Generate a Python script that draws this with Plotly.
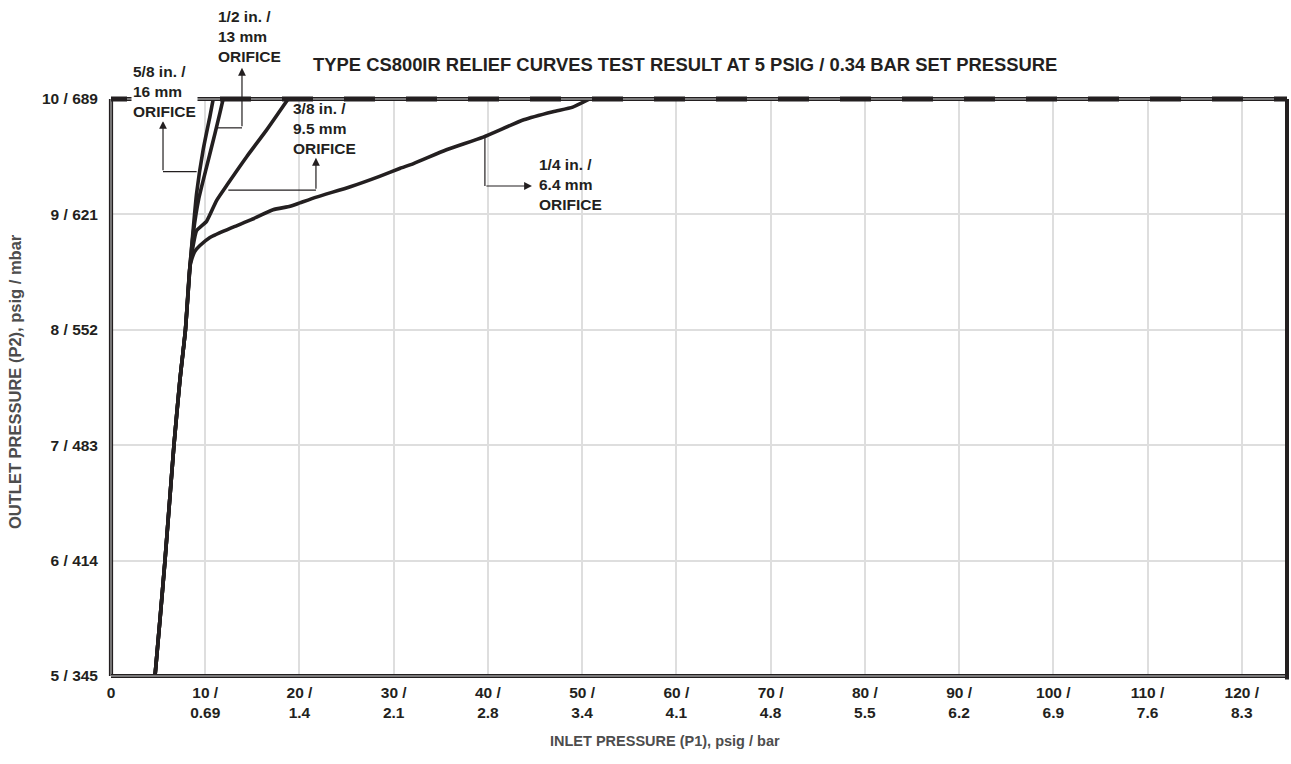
import plotly.graph_objects as go

# ---------------- data ----------------
x_tickvals = [0, 10, 20, 30, 40, 50, 60, 70, 80, 90, 100, 110, 120]
x_ticktext = ["0", "10 /<br>0.69", "20 /<br>1.4", "30 /<br>2.1", "40 /<br>2.8",
              "50 /<br>3.4", "60 /<br>4.1", "70 /<br>4.8", "80 /<br>5.5",
              "90 /<br>6.2", "100 /<br>6.9", "110 /<br>7.6", "120 /<br>8.3"]
y_tickvals = [5, 6, 7, 8, 9, 10]
y_ticktext = ["5 / 345", "6 / 414", "7 / 483", "8 / 552", "9 / 621", "10 / 689"]

# shared rising trunk (inlet psig, outlet psig)
trunk_x = [4.67, 5.2, 5.73, 6.68, 7.32, 7.9, 8.38]
trunk_y = [5.0, 5.49, 6.0, 7.0, 7.57, 8.0, 8.55]

quarter_x = [8.6, 8.9, 9.44, 10.5, 12.97, 14.75, 17.2, 19.0, 20.05, 21.8, 25.4,
             28.5, 30.7, 32.1, 35.6, 39.5, 43.8, 46.9, 49.0, 50.8]
quarter_y = [8.62, 8.68, 8.73, 8.80, 8.89, 8.95, 9.04, 9.07, 9.10, 9.15, 9.24,
             9.33, 9.40, 9.44, 9.56, 9.67, 9.82, 9.89, 9.93, 10.0]

threeeighth_x = [8.7, 9.08, 10.14, 11.2, 12.27, 14.4, 16.5, 18.8]
threeeighth_y = [8.72, 8.86, 8.94, 9.12, 9.25, 9.50, 9.73, 10.0]

half_x = [8.75, 9.3, 10.14, 11.03, 11.56, 11.9]
half_y = [8.85, 9.13, 9.41, 9.70, 9.88, 10.0]

fiveeighth_x = [8.7, 9.08, 9.78, 10.5, 10.85]
fiveeighth_y = [8.85, 9.18, 9.56, 9.85, 10.0]

labels = ["5/8 in. /<br>16 mm<br>ORIFICE", "1/2 in. /<br>13 mm<br>ORIFICE",
          "3/8 in. /<br>9.5 mm<br>ORIFICE", "1/4 in. /<br>6.4 mm<br>ORIFICE"]

title_text = "TYPE CS800IR RELIEF CURVES TEST RESULT AT 5 PSIG / 0.34 BAR SET PRESSURE"

# ---------------- layout constants ----------------
W, H = 1291, 764
ML, MR, MT, MB = 111, 4, 99, 88
XMAX = 124.8
PW, PH = W - ML - MR, H - MT - MB
INK = "#231f20"
FONT = "Liberation Sans, Arial, sans-serif"


def px2paper_x(px):
    return (px - ML) / PW


def px2paper_y(py):
    return (H - MB - py) / PH


def d2px_x(x):
    return ML + x / XMAX * PW


def d2px_y(y):
    return MT + (10 - y) / 5 * PH


fig = go.Figure()
for bx, by in [(quarter_x, quarter_y), (threeeighth_x, threeeighth_y),
               (half_x, half_y), (fiveeighth_x, fiveeighth_y)]:
    fig.add_trace(go.Scatter(x=trunk_x + bx, y=trunk_y + by, mode="lines",
                             line=dict(color=INK, width=3.6, shape="spline", smoothing=0.5),
                             hoverinfo="skip", showlegend=False))

shapes = []
# frame: double lines (dark/grey/dark)
for (x0, y0, x1, y1) in [(0, 0, 0, 1), (0, 0, 1, 0), (0, 1, 1, 1)]:
    shapes.append(dict(type="line", xref="paper", yref="paper", x0=x0, y0=y0, x1=x1, y1=y1,
                       line=dict(color=INK, width=4.2), layer="above"))
    shapes.append(dict(type="line", xref="paper", yref="paper", x0=x0, y0=y0, x1=x1, y1=y1,
                       line=dict(color="#9a9a9a", width=1.4), layer="above"))
# right side solid
shapes.append(dict(type="line", xref="paper", yref="paper", x0=1, y0=-0.006, x1=1, y1=1,
                   line=dict(color=INK, width=4), layer="above"))
# dashed heavy top line
dash_pattern = ",".join(["16px"] + ["31px"] * 40)
shapes.append(dict(type="line", xref="paper", yref="paper", x0=0, y0=1, x1=1, y1=1,
                   line=dict(color=INK, width=5, dash=dash_pattern), layer="above"))

# leader elbows (tail on curve -> corner), arrows from corner -> head
leaders = [
    dict(tail=(9.09, 9.37), corner_x=5.52, head=(5.52, 9.81), first="h"),
    dict(tail=(11.21, 9.75), corner_x=13.9, head=(13.9, 10.27), first="h"),
    dict(tail=(12.45, 9.21), corner_x=21.75, head=(21.75, 9.49), first="h"),
    dict(tail=(39.68, 9.67), corner_y=9.246, head=(44.67, 9.246), first="v"),
]
annotations = []
for L in leaders:
    tx, ty = L["tail"]
    if L["first"] == "h":
        cx, cy = L["corner_x"], ty
    else:
        cx, cy = tx, L["corner_y"]
    shapes.append(dict(type="line", xref="paper", yref="paper",
                       x0=px2paper_x(d2px_x(tx)), y0=px2paper_y(d2px_y(ty)),
                       x1=px2paper_x(d2px_x(cx)), y1=px2paper_y(d2px_y(cy)),
                       line=dict(color=INK, width=1.2), layer="above"))
    hx, hy = L["head"]
    annotations.append(dict(xref="paper", yref="paper",
                            x=px2paper_x(d2px_x(hx)), y=px2paper_y(d2px_y(hy)),
                            axref="pixel", ayref="pixel",
                            ax=d2px_x(cx) - d2px_x(hx), ay=d2px_y(cy) - d2px_y(hy),
                            text="", showarrow=True, arrowhead=2, arrowsize=1.3,
                            arrowwidth=1.2, arrowcolor=INK, standoff=0, startstandoff=0))

# label texts: (left px, top px)
label_pos = [(131, 61), (216, 6), (291, 98), (537, 154)]
for i, (lx, ly) in enumerate(label_pos):
    annotations.append(dict(xref="paper", yref="paper", x=px2paper_x(lx), y=px2paper_y(ly),
                            xanchor="left", yanchor="top", align="left", showarrow=False,
                            text="<b>" + labels[i] + "</b>",
                            font=dict(family=FONT, size=15.5, color=INK),
                            bgcolor="white" if i == 0 else "rgba(0,0,0,0)", borderpad=1))

# title
annotations.append(dict(xref="paper", yref="paper", x=px2paper_x(685), y=px2paper_y(64),
                        xanchor="center", yanchor="middle", showarrow=False,
                        text="<b>" + title_text + "</b>",
                        font=dict(family=FONT, size=18.4, color=INK)))
# axis titles
annotations.append(dict(xref="paper", yref="paper", x=px2paper_x(665), y=px2paper_y(741),
                        xanchor="center", yanchor="middle", showarrow=False,
                        text="<b>INLET PRESSURE (P1), psig / bar</b>",
                        font=dict(family=FONT, size=14.5, color="#4d4d4d")))
annotations.append(dict(xref="paper", yref="paper", x=px2paper_x(15), y=px2paper_y(382),
                        xanchor="center", yanchor="middle", showarrow=False, textangle=-90,
                        text="<b>OUTLET PRESSURE (P2), psig / mbar</b>",
                        font=dict(family=FONT, size=16.5, color="#4d4d4d")))

fig.update_layout(
    width=W, height=H,
    margin=dict(l=ML, r=MR, t=MT, b=MB),
    paper_bgcolor="white", plot_bgcolor="white",
    showlegend=False,
    shapes=shapes, annotations=annotations,
    xaxis=dict(range=[0, XMAX], tickvals=x_tickvals,
               ticktext=["<b>" + t.replace("<br>", "</b><br><b>") + "</b>" for t in x_ticktext],
               showgrid=True, gridcolor="#dedede", gridwidth=1.5, zeroline=False,
               showline=False, ticks="", ticklabelstandoff=5,
               tickfont=dict(family=FONT, size=15.5, color=INK)),
    yaxis=dict(range=[5, 10], tickvals=y_tickvals, ticktext=["<b>" + t + "</b>" for t in y_ticktext],
               showgrid=True, gridcolor="#dedede", gridwidth=1.5, zeroline=False,
               showline=False, ticks="", ticklabelstandoff=12,
               tickfont=dict(family=FONT, size=15.5, color=INK)),
)

fig.write_html("out.html", config={"displayModeBar": False},
               post_script="document.body.style.margin='0';document.body.style.overflow='hidden';")
